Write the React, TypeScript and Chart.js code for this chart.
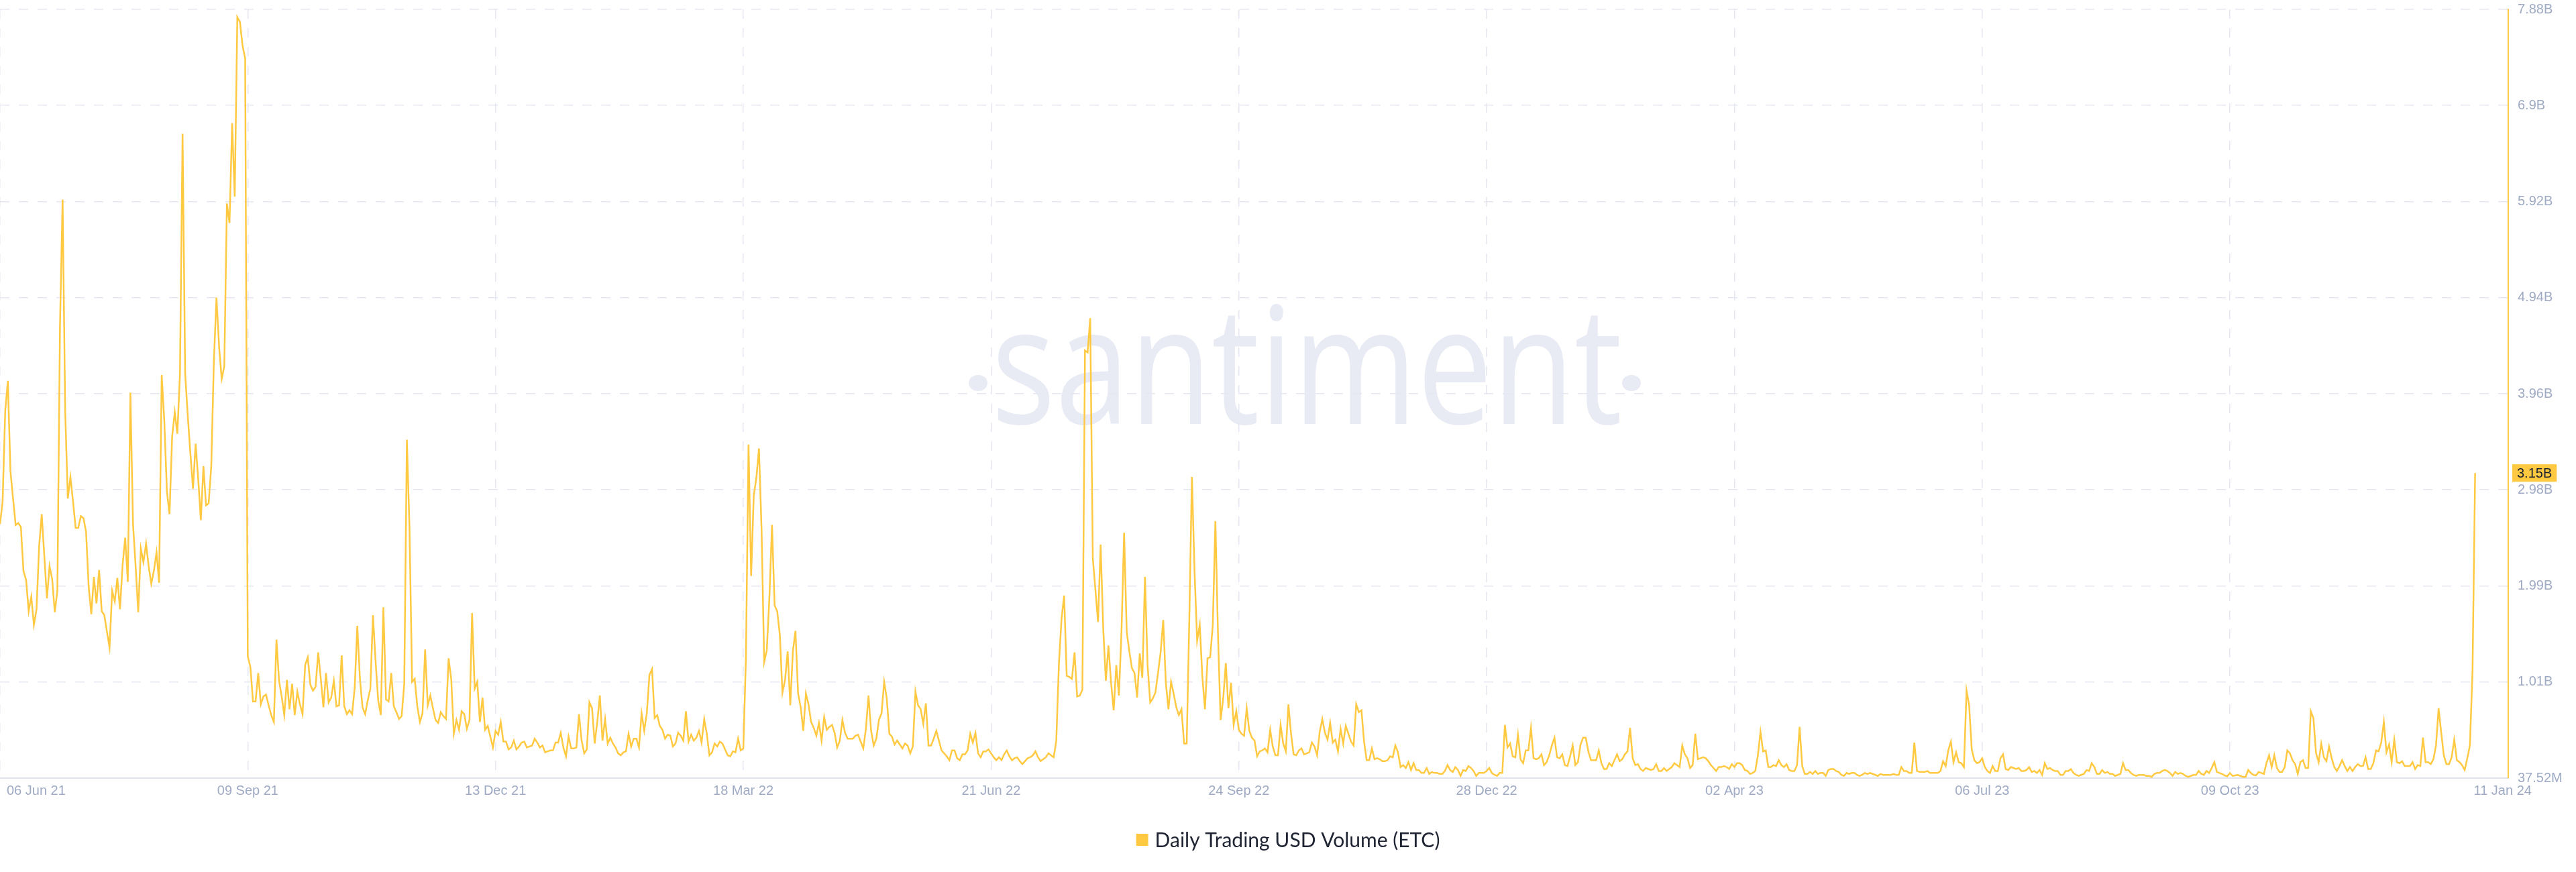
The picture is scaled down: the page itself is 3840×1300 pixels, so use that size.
import React, { useEffect, useRef } from 'react';
import { Chart, registerables } from 'chart.js';

Chart.register(...registerables);

// Daily Trading USD Volume (ETC), in billions of USD, one value per day starting 06 Jun 2021
const volJun21 = [
  2.63, 2.86, 3.78, 4.09, 3.17, 2.89, 2.62, 2.64, 2.60, 2.15,
  2.06, 1.74, 1.89, 1.60, 1.76, 2.40, 2.73, 2.30, 1.87, 2.20,
  2.07, 1.73, 1.95, 4.65, 5.94, 3.78, 2.89, 3.11, 2.86, 2.59,
  2.59, 2.71, 2.69, 2.55, 1.99, 1.71, 2.09, 1.82, 2.16, 1.74,
  1.70, 1.53, 1.37, 1.95, 1.84, 2.08, 1.76, 2.21, 2.49, 2.04,
  3.97, 2.63, 2.20, 1.73, 2.38, 2.24, 2.43, 2.20, 2.02, 2.15,
  2.34, 2.03, 4.15, 3.68, 2.96, 2.73, 3.52, 3.77, 3.55, 4.16,
  6.61, 4.16, 3.73, 3.35, 2.99, 3.45, 3.09, 2.67, 3.22, 2.82,
  2.84, 3.22, 4.29, 4.94, 4.44, 4.11, 4.24, 5.90, 5.70, 6.72,
  5.97, 7.80, 7.75, 7.51, 7.38,
];
const volSep21 = [
  1.28, 1.17, 0.82, 0.82, 1.11,
  0.79, 0.87, 0.89, 0.78, 0.68, 0.61, 1.45, 1.03, 0.87, 0.68,
  1.04, 0.74, 1.00, 0.68, 0.92, 0.79, 0.69, 1.19, 1.27, 0.99,
  0.93, 0.97, 1.32, 1.05, 0.76, 1.11, 0.81, 0.86, 1.03, 0.77,
  0.78, 1.29, 0.77, 0.69, 0.73, 0.69, 0.96, 1.59, 1.05, 0.76,
  0.69, 0.83, 0.95, 1.70, 1.23, 0.83, 0.68, 1.78, 0.84, 0.82,
  1.11, 0.77, 0.71, 0.64, 0.67, 1.00, 3.49, 2.60, 1.02, 1.05,
  0.77, 0.61, 0.70, 1.35, 0.78, 0.88, 0.75, 0.63, 0.60, 0.71,
  0.67, 0.64, 1.26, 1.05, 0.49, 0.63, 0.53, 0.72, 0.69, 0.54,
  0.63, 1.72, 0.95, 1.02, 0.61, 0.86, 0.53, 0.57, 0.46, 0.35,
];
const volDec21 = [
  0.52, 0.48, 0.61, 0.41, 0.41, 0.33, 0.35, 0.42, 0.33, 0.36,
  0.40, 0.41, 0.35, 0.36, 0.37, 0.44, 0.40, 0.35, 0.37, 0.30,
  0.31, 0.32, 0.32, 0.40, 0.40, 0.50, 0.35, 0.26, 0.46, 0.34,
  0.34, 0.35, 0.69, 0.42, 0.29, 0.33, 0.81, 0.75, 0.39, 0.61,
  0.88, 0.42, 0.64, 0.39, 0.45, 0.39, 0.35, 0.29, 0.27, 0.30,
  0.31, 0.49, 0.36, 0.44, 0.44, 0.35, 0.70, 0.52, 0.70, 1.09,
  1.15, 0.65, 0.68, 0.57, 0.53, 0.44, 0.48, 0.47, 0.36, 0.39,
  0.50, 0.47, 0.42, 0.72, 0.41, 0.48, 0.42, 0.45, 0.52, 0.40,
  0.64, 0.49, 0.27, 0.30, 0.39, 0.36, 0.41, 0.39, 0.33, 0.27,
  0.26, 0.31, 0.30, 0.44, 0.32,
];
const volMar22 = [
  0.34, 1.26, 3.44, 2.10, 2.92,
  3.10, 3.40, 2.57, 1.22, 1.34, 1.88, 2.62, 1.80, 1.74, 1.50,
  0.91, 1.04, 1.33, 0.78, 1.33, 1.54, 0.90, 0.76, 0.52, 0.90,
  0.79, 0.61, 0.55, 0.47, 0.60, 0.42, 0.66, 0.53, 0.56, 0.58,
  0.50, 0.35, 0.42, 0.63, 0.50, 0.44, 0.44, 0.44, 0.47, 0.48,
  0.41, 0.34, 0.54, 0.88, 0.52, 0.37, 0.44, 0.63, 0.70, 1.02,
  0.85, 0.49, 0.46, 0.38, 0.42, 0.38, 0.34, 0.39, 0.37, 0.29,
  0.36, 0.92, 0.78, 0.74, 0.59, 0.80, 0.37, 0.37, 0.44, 0.52,
  0.42, 0.32, 0.29, 0.26, 0.22, 0.32, 0.32, 0.24, 0.22, 0.28,
  0.28, 0.32, 0.49, 0.40, 0.50, 0.29, 0.25, 0.31, 0.31, 0.33,
];
const volJun22 = [
  0.29, 0.25, 0.22, 0.25, 0.22, 0.28, 0.32, 0.26, 0.22, 0.24,
  0.25, 0.21, 0.18, 0.21, 0.24, 0.25, 0.27, 0.31, 0.25, 0.21,
  0.23, 0.25, 0.29, 0.27, 0.25, 0.42, 1.20, 1.66, 1.90, 1.08,
  1.07, 1.05, 1.32, 0.87, 0.88, 0.94, 4.40, 4.38, 4.73, 2.28,
  1.96, 1.63, 2.42, 1.56, 1.03, 1.39, 1.01, 0.73, 1.19, 0.88,
  1.53, 2.54, 1.53, 1.33, 1.16, 1.11, 0.86, 1.31, 1.06, 2.09,
  1.19, 0.81, 0.85, 0.91, 1.11, 1.32, 1.65, 1.01, 0.74, 1.02,
  0.90, 0.76, 0.68, 0.74, 0.39, 0.39, 1.66, 3.11, 2.15, 1.44,
  1.60, 1.07, 0.74, 1.26, 1.27, 1.60, 2.66, 1.50, 0.63, 0.85,
  1.21, 0.75, 1.01, 0.58, 0.72,
];
const volSep22 = [
  0.53, 0.49, 0.47, 0.75, 0.52,
  0.45, 0.42, 0.26, 0.31, 0.32, 0.34, 0.30, 0.53, 0.36, 0.27,
  0.27, 0.58, 0.39, 0.31, 0.79, 0.49, 0.28, 0.27, 0.32, 0.34,
  0.28, 0.29, 0.30, 0.40, 0.36, 0.27, 0.51, 0.64, 0.50, 0.43,
  0.60, 0.40, 0.43, 0.31, 0.54, 0.39, 0.57, 0.49, 0.41, 0.37,
  0.79, 0.71, 0.73, 0.41, 0.22, 0.22, 0.34, 0.23, 0.24, 0.23,
  0.21, 0.21, 0.22, 0.26, 0.25, 0.37, 0.30, 0.15, 0.17, 0.14,
  0.20, 0.12, 0.19, 0.12, 0.12, 0.09, 0.09, 0.14, 0.08, 0.10,
  0.09, 0.09, 0.08, 0.08, 0.11, 0.17, 0.12, 0.10, 0.15, 0.12,
  0.06, 0.12, 0.11, 0.16, 0.14, 0.11, 0.06, 0.09, 0.09, 0.09,
];
const volDec22 = [
  0.11, 0.14, 0.09, 0.07, 0.06, 0.09, 0.09, 0.58, 0.35, 0.39,
  0.26, 0.25, 0.48, 0.23, 0.19, 0.32, 0.32, 0.55, 0.24, 0.23,
  0.24, 0.28, 0.17, 0.20, 0.27, 0.37, 0.45, 0.25, 0.24, 0.28,
  0.17, 0.16, 0.26, 0.37, 0.17, 0.20, 0.38, 0.45, 0.45, 0.31,
  0.22, 0.22, 0.22, 0.32, 0.19, 0.13, 0.13, 0.19, 0.16, 0.22,
  0.28, 0.21, 0.23, 0.28, 0.31, 0.55, 0.24, 0.17, 0.18, 0.13,
  0.11, 0.14, 0.13, 0.12, 0.13, 0.18, 0.11, 0.11, 0.14, 0.11,
  0.13, 0.15, 0.19, 0.17, 0.15, 0.37, 0.28, 0.24, 0.14, 0.17,
  0.49, 0.23, 0.24, 0.25, 0.24, 0.21, 0.17, 0.14, 0.11, 0.15,
  0.15, 0.16, 0.15, 0.13, 0.18,
];
const volApr23 = [
  0.15, 0.19, 0.19, 0.17, 0.12,
  0.11, 0.08, 0.09, 0.11, 0.27, 0.51, 0.31, 0.32, 0.15, 0.15,
  0.17, 0.16, 0.22, 0.17, 0.15, 0.18, 0.12, 0.11, 0.11, 0.17,
  0.56, 0.16, 0.08, 0.08, 0.10, 0.08, 0.11, 0.08, 0.09, 0.09,
  0.06, 0.12, 0.13, 0.13, 0.11, 0.10, 0.07, 0.06, 0.09, 0.08,
  0.09, 0.09, 0.07, 0.06, 0.07, 0.09, 0.08, 0.09, 0.08, 0.07,
  0.06, 0.08, 0.07, 0.07, 0.07, 0.07, 0.08, 0.07, 0.07, 0.15,
  0.11, 0.11, 0.09, 0.09, 0.40, 0.11, 0.10, 0.10, 0.10, 0.11,
  0.09, 0.09, 0.09, 0.09, 0.11, 0.21, 0.16, 0.32, 0.41, 0.20,
  0.30, 0.20, 0.19, 0.15, 0.93, 0.78, 0.33, 0.22, 0.19, 0.20,
];
const volJul23 = [
  0.24, 0.15, 0.11, 0.09, 0.16, 0.11, 0.11, 0.24, 0.28, 0.13,
  0.12, 0.15, 0.14, 0.13, 0.14, 0.11, 0.11, 0.12, 0.15, 0.10,
  0.11, 0.09, 0.12, 0.07, 0.19, 0.13, 0.14, 0.12, 0.11, 0.11,
  0.07, 0.07, 0.11, 0.11, 0.13, 0.09, 0.07, 0.06, 0.07, 0.08,
  0.12, 0.11, 0.19, 0.15, 0.08, 0.08, 0.12, 0.09, 0.10, 0.08,
  0.08, 0.06, 0.07, 0.08, 0.19, 0.12, 0.12, 0.09, 0.07, 0.06,
  0.07, 0.07, 0.07, 0.06, 0.06, 0.05, 0.08, 0.09, 0.09, 0.11,
  0.12, 0.11, 0.09, 0.06, 0.10, 0.08, 0.09, 0.08, 0.06, 0.05,
  0.06, 0.07, 0.07, 0.11, 0.08, 0.07, 0.11, 0.09, 0.14, 0.20,
  0.10, 0.09, 0.08, 0.065, 0.056,
];
const volOct23 = [
  0.09, 0.06, 0.065, 0.07, 0.06,
  0.05, 0.05, 0.12, 0.09, 0.07, 0.065, 0.10, 0.09, 0.08, 0.19,
  0.27, 0.15, 0.27, 0.14, 0.10, 0.10, 0.15, 0.32, 0.29, 0.22,
  0.18, 0.08, 0.20, 0.22, 0.14, 0.14, 0.72, 0.65, 0.29, 0.20,
  0.39, 0.25, 0.21, 0.36, 0.24, 0.15, 0.11, 0.16, 0.22, 0.16,
  0.11, 0.15, 0.11, 0.15, 0.18, 0.16, 0.16, 0.25, 0.13, 0.13,
  0.19, 0.32, 0.31, 0.40, 0.61, 0.30, 0.38, 0.20, 0.43, 0.20,
  0.19, 0.21, 0.16, 0.16, 0.16, 0.20, 0.13, 0.17, 0.16, 0.45,
  0.20, 0.20, 0.18, 0.23, 0.37, 0.75, 0.50, 0.27, 0.18, 0.18,
  0.25, 0.43, 0.22, 0.20, 0.17, 0.12, 0.24, 0.37, 1.13, 3.15,
];

// x-axis ticks: day offsets from 06 Jun 21 and their labels
const xTickDays = [0, 95, 190, 285, 380, 475, 570, 665, 760, 855, 950];
const xTickLabels = [
  '06 Jun 21', '09 Sep 21', '13 Dec 21', '18 Mar 22', '21 Jun 22', '24 Sep 22',
  '28 Dec 22', '02 Apr 23', '06 Jul 23', '09 Oct 23', '11 Jan 24',
];

// y-axis ticks (USD) and their labels
const yTickValues = [
  37.52e6, 1.01784e9, 1.99816e9, 2.97848e9, 3.9588e9, 4.93912e9, 5.91944e9, 6.89976e9, 7.88e9,
];
const yTickLabels = ['37.52M', '1.01B', '1.99B', '2.98B', '3.96B', '4.94B', '5.92B', '6.9B', '7.88B'];

const seriesLabel = 'Daily Trading USD Volume (ETC)';
const watermarkText = 'santiment';

const LINE_COLOR = '#ffc942';
const GRID_COLOR = '#e4e7f1';
const AXIS_TEXT = '#9faac4';
const X_MAX_DAY = 961.7;

export default function App() {
  const ref = useRef<HTMLCanvasElement | null>(null);

  useEffect(() => {
    document.body.style.margin = '0';
    const canvas = ref.current;
    if (!canvas) return;

    const volumes = [
      ...volJun21, ...volSep21, ...volDec21, ...volMar22, ...volJun22,
      ...volSep22, ...volDec22, ...volApr23, ...volJul23, ...volOct23,
    ];
    const points = volumes.map((v, i) => ({ x: i, y: v * 1e9 }));
    const lastValue = points[points.length - 1];

    const watermarkPlugin = {
      id: 'watermark',
      beforeDraw(chart: any) {
        const ctx = chart.ctx as CanvasRenderingContext2D;
        ctx.save();
        ctx.fillStyle = '#e8eaf4';
        ctx.font = '400 243px "Open Sans"';
        ctx.textBaseline = 'alphabetic';
        ctx.textAlign = 'left';
        const w = ctx.measureText(watermarkText).width;
        const targetW = 940;
        ctx.translate(1478, 632);
        ctx.scale(targetW / w, 1);
        ctx.fillText(watermarkText, 0, 0);
        ctx.restore();
        ctx.save();
        ctx.fillStyle = '#e8eaf4';
        ctx.beginPath();
        ctx.ellipse(1458, 571, 14, 12, 0, 0, Math.PI * 2);
        ctx.fill();
        ctx.beginPath();
        ctx.ellipse(2432, 571, 14, 12, 0, 0, Math.PI * 2);
        ctx.fill();
        ctx.restore();
      },
    };

    const overlayPlugin = {
      id: 'overlay',
      afterDraw(chart: any) {
        const ctx = chart.ctx as CanvasRenderingContext2D;
        const xs = chart.scales.x;
        const ys = chart.scales.y;
        // x tick labels
        ctx.save();
        ctx.font = '20px "Liberation Sans", Arial, sans-serif';
        ctx.fillStyle = AXIS_TEXT;
        ctx.textBaseline = 'middle';
        xTickDays.forEach((d, i) => {
          const px = xs.getPixelForValue(d);
          if (i === 0) {
            ctx.textAlign = 'left';
            ctx.fillText(xTickLabels[i], px + 10, 1179);
          } else if (i === xTickDays.length - 1) {
            ctx.textAlign = 'left';
            ctx.fillText(xTickLabels[i], px - 6, 1179);
          } else {
            ctx.textAlign = 'center';
            ctx.fillText(xTickLabels[i], px, 1179);
          }
        });
        ctx.restore();

        // last value badge
        const by = ys.getPixelForValue(lastValue.y);
        const bx = chart.chartArea.right + 6;
        const text = (lastValue.y / 1e9).toFixed(2) + 'B';
        ctx.save();
        ctx.font = '20px "Liberation Sans", Arial, sans-serif';
        const tw = ctx.measureText(text).width;
        ctx.fillStyle = LINE_COLOR;
        ctx.fillRect(bx, by - 13, tw + 14, 26);
        ctx.fillStyle = '#1b2130';
        ctx.textAlign = 'left';
        ctx.textBaseline = 'middle';
        ctx.fillText(text, bx + 7, by + 1);
        ctx.restore();

        // legend
        ctx.save();
        ctx.font = '400 30px Lato, "Open Sans", sans-serif';
        const lw = ctx.measureText(seriesLabel).width;
        const box = 18;
        const gap = 10;
        const total = box + gap + lw;
        const lx = chart.width / 2 - total / 2;
        const ly = 1252;
        ctx.fillStyle = LINE_COLOR;
        ctx.fillRect(lx, ly - box / 2, box, box);
        ctx.fillStyle = '#1f2433';
        ctx.textAlign = 'left';
        ctx.textBaseline = 'middle';
        ctx.fillText(seriesLabel, lx + box + gap, ly + 1);
        ctx.restore();
      },
    };

    const chart = new Chart(canvas, {
      type: 'line',
      data: {
        datasets: [
          {
            label: seriesLabel,
            data: points,
            borderColor: LINE_COLOR,
            backgroundColor: LINE_COLOR,
            borderWidth: 2.5,
            pointRadius: 0,
            pointHoverRadius: 0,
            tension: 0,
            fill: false,
          },
        ],
      },
      options: {
        animation: false,
        responsive: false,
        maintainAspectRatio: false,
        parsing: false,
        normalized: true,
        layout: { padding: { top: 14, left: 0, right: 0, bottom: 0 } },
        plugins: {
          legend: { display: false },
          tooltip: { enabled: false },
        },
        scales: {
          x: {
            type: 'linear',
            min: 0,
            max: X_MAX_DAY,
            afterBuildTicks: (axis: any) => {
              axis.ticks = xTickDays.map((v) => ({ value: v }));
            },
            afterFit: (axis: any) => {
              axis.height = 140;
              axis.paddingLeft = 0;
              axis.paddingRight = 0;
            },
            ticks: { display: false },
            grid: {
              drawTicks: false,
              lineWidth: 1.5,
              color: (c: any) => (c.index === xTickDays.length - 1 ? 'rgba(0,0,0,0)' : GRID_COLOR),
            },
            border: { display: true, color: '#dfe3ee', width: 2, dash: [14, 14] },
          },
          y: {
            type: 'linear',
            position: 'right',
            min: yTickValues[0],
            max: yTickValues[yTickValues.length - 1],
            afterBuildTicks: (axis: any) => {
              axis.ticks = yTickValues.map((v) => ({ value: v }));
            },
            afterFit: (axis: any) => {
              axis.width = 101;
              axis.paddingTop = 0;
              axis.paddingBottom = 0;
            },
            ticks: {
              padding: 14,
              color: AXIS_TEXT,
              font: { family: '"Liberation Sans", Arial, sans-serif', size: 20 },
              callback: (_v: any, i: number) => yTickLabels[i],
            },
            grid: {
              drawTicks: false,
              lineWidth: 1.5,
              color: (c: any) => (c.index === 0 ? 'rgba(0,0,0,0)' : GRID_COLOR),
            },
            border: { display: true, color: LINE_COLOR, width: 2, dash: [14, 14] },
          },
        },
      },
      plugins: [watermarkPlugin, overlayPlugin],
    } as any);

    return () => {
      chart.destroy();
    };
  }, []);

  return (
    <canvas
      ref={ref}
      width={3840}
      height={1300}
      style={{ display: 'block', width: '3840px', height: '1300px' }}
    />
  );
}
